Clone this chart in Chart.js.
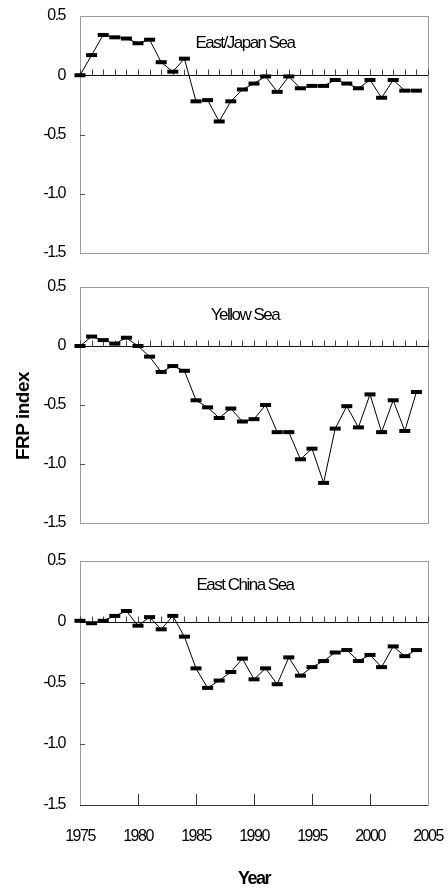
<!DOCTYPE html>
<html>
<head>
<meta charset="utf-8">
<script src="https://cdn.jsdelivr.net/npm/chart.js@4/dist/chart.umd.min.js"></script>
<style>
  html, body { margin: 0; padding: 0; background: #fff; }
  #wrap { position: relative; width: 448px; height: 891px; overflow: hidden; }
  canvas { position: absolute; left: 0; }
  #c1 { top: 0; }
  #c2 { top: 270px; }
  #c3 { top: 540px; }
  #ylab {
    position: absolute; left: 23px; top: 416px;
    transform: translate(-50%, -50%) rotate(-90deg);
    font: bold 19px "Liberation Sans", Arial, sans-serif;
    letter-spacing: -0.5px; white-space: nowrap; color: #000;
  }
</style>
</head>
<body>
<div id="wrap">
  <canvas id="c1" width="448" height="270"></canvas>
  <canvas id="c2" width="448" height="270"></canvas>
  <canvas id="c3" width="448" height="351"></canvas>
  <div id="ylab">FRP index</div>
</div>
<script>
// Years and FRP index values
const years = [1975, 1976, 1977, 1978, 1979, 1980, 1981, 1982, 1983, 1984,
               1985, 1986, 1987, 1988, 1989, 1990, 1991, 1992, 1993, 1994,
               1995, 1996, 1997, 1998, 1999, 2000, 2001, 2002, 2003, 2004];

const eastJapanSea = [0.00, 0.17, 0.34, 0.32, 0.31, 0.27, 0.30, 0.11, 0.03, 0.14,
                      -0.22, -0.21, -0.39, -0.22, -0.12, -0.07, -0.01, -0.14, -0.01, -0.11,
                      -0.09, -0.09, -0.04, -0.07, -0.11, -0.04, -0.19, -0.04, -0.13, -0.13];

const yellowSea = [0.00, 0.08, 0.05, 0.02, 0.07, 0.00, -0.09, -0.22, -0.17, -0.21,
                   -0.46, -0.52, -0.61, -0.53, -0.64, -0.62, -0.50, -0.73, -0.73, -0.96,
                   -0.87, -1.16, -0.70, -0.51, -0.69, -0.41, -0.73, -0.46, -0.72, -0.39];

const eastChinaSea = [0.01, -0.01, 0.01, 0.05, 0.09, -0.03, 0.04, -0.06, 0.05, -0.12,
                      -0.38, -0.54, -0.48, -0.41, -0.30, -0.47, -0.38, -0.51, -0.29, -0.44,
                      -0.37, -0.32, -0.25, -0.23, -0.32, -0.27, -0.37, -0.20, -0.28, -0.23];

const yTicks = [0.5, 0, -0.5, -1.0, -1.5];
const xTicks = [1975, 1980, 1985, 1990, 1995, 2000, 2005];

const FONT = '"Liberation Sans", Arial, sans-serif';

// Frame, zero line with yearly ticks, inward axis ticks and panel label
const framePlugin = {
    id: 'frame',
    beforeDraw(chart) {
        // the scanned figure uses very tight lettering
        chart.ctx.letterSpacing = '-1.5px';
    },
    beforeDatasetsDraw(chart, args, opts) {
        const ctx = chart.ctx;
        const a = chart.chartArea;
        const x = chart.scales.x;
        const y = chart.scales.y;
        const px = v => Math.round(v) + 0.5;

        ctx.save();
        ctx.lineWidth = 1;

        // panel box
        ctx.strokeStyle = '#9c9c9c';
        ctx.strokeRect(px(a.left), px(a.top), Math.round(a.width), Math.round(a.height));

        // dark bottom axis on the last panel
        if (opts.bottomTicks) {
            ctx.strokeStyle = '#333';
            ctx.beginPath();
            ctx.moveTo(a.left, px(a.bottom));
            ctx.lineTo(a.right, px(a.bottom));
            ctx.stroke();
            xTicks.slice(1, -1).forEach(v => {
                const xx = px(x.getPixelForValue(v));
                ctx.beginPath();
                ctx.moveTo(xx, a.bottom);
                ctx.lineTo(xx, a.bottom - 11);
                ctx.stroke();
            });
        }

        // inward y ticks
        ctx.strokeStyle = '#555';
        yTicks.slice(1, -1).forEach(v => {
            const yy = px(y.getPixelForValue(v));
            ctx.beginPath();
            ctx.moveTo(a.left, yy);
            ctx.lineTo(a.left + 5, yy);
            ctx.stroke();
        });

        // zero line with a tick each year
        const y0 = px(y.getPixelForValue(0));
        ctx.strokeStyle = '#111';
        ctx.beginPath();
        ctx.moveTo(a.left, y0);
        ctx.lineTo(a.right, y0);
        ctx.stroke();
        ctx.strokeStyle = '#444';
        for (let yr = x.min; yr <= x.max; yr++) {
            const xx = px(x.getPixelForValue(yr));
            ctx.beginPath();
            ctx.moveTo(xx, y0);
            ctx.lineTo(xx, y0 - 6);
            ctx.stroke();
        }

        // panel label
        ctx.fillStyle = '#000';
        ctx.font = '17px ' + FONT;
        ctx.letterSpacing = '-1.5px';
        ctx.textAlign = 'center';
        ctx.textBaseline = 'middle';
        ctx.fillText(opts.label, (a.left + a.right) / 2 + opts.dx, a.top + opts.dy);
        ctx.restore();
    }
};

function makePanel(id, values, label, dy, padTop, axisHeight, last) {
    const points = years.map((yr, i) => ({ x: yr, y: values[i] }));
    return new Chart(document.getElementById(id), {
        type: 'line',
        data: {
            datasets: [{
                data: points,
                borderColor: '#000',
                borderWidth: 1,
                pointStyle: 'line',
                pointRadius: 5.5,
                pointBorderWidth: 4,
                pointBorderColor: '#000',
                pointBackgroundColor: '#000',
                tension: 0,
                clip: false
            }]
        },
        options: {
            responsive: false,
            animation: false,
            events: [],
            layout: {
                autoPadding: false,
                padding: { top: padTop, right: 20, bottom: 0, left: 0 }
            },
            plugins: {
                legend: { display: false },
                tooltip: { enabled: false },
                frame: { label: label, dx: -9, dy: dy, bottomTicks: last }
            },
            scales: {
                x: {
                    type: 'linear',
                    min: 1975,
                    max: 2005,
                    afterBuildTicks: s => { s.ticks = xTicks.map(v => ({ value: v })); },
                    afterFit: s => {
                        s.height = axisHeight;
                        s.paddingLeft = 0;
                        s.paddingRight = 0;
                    },
                    grid: { display: false, drawTicks: false },
                    border: { display: false },
                    ticks: {
                        display: last,
                        padding: 22,
                        color: '#000',
                        font: { family: FONT, size: 16 },
                        maxRotation: 0,
                        callback: v => String(v)
                    },
                    title: {
                        display: last,
                        text: 'Year',
                        color: '#000',
                        font: { family: FONT, size: 18, weight: 'bold' },
                        padding: { top: 0, bottom: 1 }
                    }
                },
                y: {
                    min: -1.5,
                    max: 0.5,
                    afterBuildTicks: s => { s.ticks = yTicks.map(v => ({ value: v })); },
                    afterFit: s => {
                        s.width = 80;
                        s.paddingTop = 0;
                        s.paddingBottom = 0;
                    },
                    grid: { display: false, drawTicks: false },
                    border: { display: false },
                    ticks: {
                        padding: 15,
                        color: '#000',
                        font: { family: FONT, size: 16 },
                        callback: v => v === 0 ? '0' : v.toFixed(1)
                    }
                }
            }
        },
        plugins: [framePlugin]
    });
}

makePanel('c1', eastJapanSea, 'East/Japan Sea', 27, 16, 17, false);
makePanel('c2', yellowSea, 'Yellow Sea', 28, 17, 17, false);
makePanel('c3', eastChinaSea, 'East China Sea', 24, 21, 86, true);
</script>
</body>
</html>
